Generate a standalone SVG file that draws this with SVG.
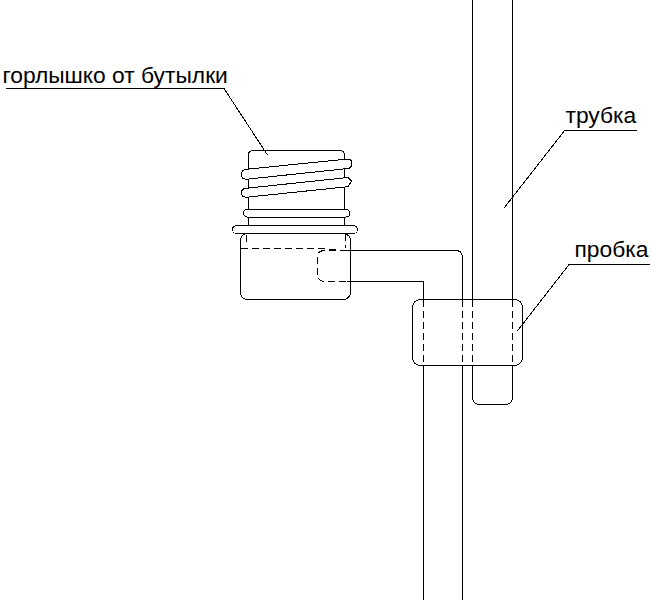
<svg xmlns="http://www.w3.org/2000/svg" width="652" height="600" viewBox="0 0 652 600">
<style>
.l{fill:none;stroke:#000;stroke-width:1;shape-rendering:crispEdges}
.w{fill:#fff;stroke:#000;stroke-width:1;shape-rendering:crispEdges}
.d{fill:none;stroke:#000;stroke-width:1;stroke-dasharray:7 4;shape-rendering:crispEdges}
.t{fill:none;stroke:#000;stroke-width:1;shape-rendering:crispEdges}
text{font-family:"Liberation Sans",Arial,sans-serif;font-size:22.8px;fill:#000}
</style>
<rect width="652" height="600" fill="#fff"/>
<g id="neck">
<path class="l" d="M248.500 226V155Q248.500 150.500 253 150.500H340Q344.500 150.500 344.500 155V226"/>
<path class="w" d="M246 169.300L348 159Q352 159.500 351.700 163.500Q351.700 168 348 168.500L246 179.300Q241.500 179 241.300 174.500Q242 169.500 246 169.300Z"/>
<path class="w" d="M246 188.300L348 177.500L351.700 181L348 186.700L246 197.300Q241.500 197 241.300 192.700Q242 188.500 246 188.300Z"/>
<rect class="w" x="243.500" y="209.500" width="106.500" height="7.500" rx="3.750"/>
<rect class="w" x="232.500" y="225.500" width="125" height="8" rx="4"/>
</g>
<g id="bottle-cap">
<rect class="l" x="240.500" y="233.500" width="110" height="66" rx="7"/>
<path class="d" d="M241 248.500H320L347 250.500"/>
<path class="d" d="M347 250.500H325Q317 250.500 317 258V273Q317 281.500 325 281.500H347"/>
<path class="d" d="M246.500 235V245M345 234V248"/>
</g>
<g id="side-tube">
<path class="l" d="M347 250.500H455.500Q462.500 250.500 462.500 257.500V299.500M347 281.500H423.500V299.500"/>
<path class="d" d="M423.500 299.500V365.500M462.500 299.500V365.500"/>
<path class="l" d="M423.500 365.500V600M462.500 365.500V600"/>
</g>
<g id="tube">
<path class="l" d="M472.500 0V299.500M512.500 0V299.500"/>
<path class="d" d="M472.500 299.500V365.500M512.500 299.500V365.500"/>
<path class="l" d="M472.500 365.500V396.500Q472.500 404.500 480.500 404.500H504.500Q512.500 404.500 512.500 396.500V365.500"/>
</g>
<g id="stopper">
<rect class="l" x="412.500" y="299.500" width="110" height="66" rx="8"/>
</g>
<g id="connectors">
<path class="t" d="M6 88.500H224L267.500 155"/>
<path class="t" d="M636.500 130H565L504.300 207.700"/>
<path class="t" d="M650 264H569.500L517.300 331"/>
</g>
<g id="labels">
<text x="2.500" y="82.500">горлышко от бутылки</text>
<text x="565.500" y="123">трубка</text>
<text x="574.500" y="257">пробка</text>
</g>
</svg>
